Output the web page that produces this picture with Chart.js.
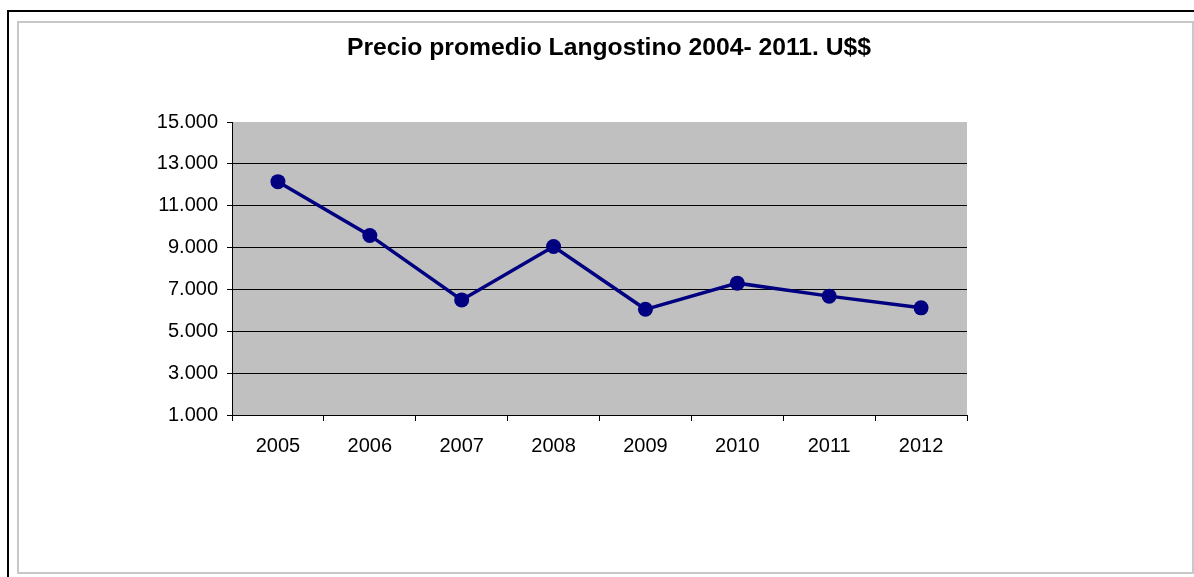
<!DOCTYPE html>
<html>
<head>
<meta charset="utf-8">
<script src="https://cdn.jsdelivr.net/npm/chart.js@4/dist/chart.umd.min.js"></script>
<style>
  html, body { margin: 0; padding: 0; background: #fff; overflow: hidden; }
  #outer { position: absolute; left: 7px; top: 10px; width: 1300px; height: 700px;
           border-left: 2px solid #000; border-top: 2px solid #000; }
  #inner { position: absolute; left: 17px; top: 21px; width: 1173px; height: 549px;
           border: 2px solid #c8c8c8; }
  #title { position: absolute; left: 109px; width: 1000px; top: 35px; text-align: center;
           font: bold 24.7px/24px "Liberation Sans", Arial, sans-serif; color: #000; white-space: nowrap; }
  #c { position: absolute; left: 0; top: 0; }
</style>
</head>
<body>
<div id="outer"></div>
<div id="inner"></div>
<canvas id="c" width="1194" height="577"></canvas>
<div id="title">Precio promedio Langostino 2004- 2011. U$$</div>
<script>
const titleText = 'Precio promedio Langostino 2004- 2011. U$$';
const years = ['2005', '2006', '2007', '2008', '2009', '2010', '2011', '2012'];
const prices = [12150, 9580, 6500, 9050, 6050, 7300, 6680, 6120];
const yMin = 1000;
const yMax = 15000;
const yStep = 2000;

function fmt(v) {
  return String(v).replace(/\B(?=(\d{3})+(?!\d))/g, '.');
}

const plotBg = {
  id: 'plotBg',
  beforeDraw(chart) {
    const a = chart.chartArea;
    const ctx = chart.ctx;
    ctx.save();
    ctx.fillStyle = '#c0c0c0';
    ctx.fillRect(a.left, a.top, a.right - a.left, a.bottom - a.top);
    ctx.restore();
  }
};

const font = { family: '"Liberation Sans", Arial, sans-serif', size: 20 };

new Chart(document.getElementById('c'), {
  type: 'line',
  data: {
    labels: years,
    datasets: [{
      label: titleText,
      data: prices,
      borderColor: '#000080',
      backgroundColor: '#000080',
      borderWidth: 3.5,
      pointRadius: 7.5,
      pointHoverRadius: 7.5,
      pointBorderWidth: 0,
      pointBackgroundColor: '#000080',
      tension: 0,
      fill: false
    }]
  },
  options: {
    responsive: false,
    animation: false,
    devicePixelRatio: 1,
    layout: { padding: { left: 0, top: 122, right: 227, bottom: 0 } },
    plugins: {
      legend: { display: false },
      title: { display: false },
      tooltip: { enabled: false }
    },
    scales: {
      x: {
        offset: true,
        grid: { offset: true, drawOnChartArea: false, color: '#000', tickLength: 6, lineWidth: 1 },
        border: { display: true, color: '#000', width: 1 },
        ticks: { color: '#000', font: font, padding: 13, maxRotation: 0 },
        afterFit(scale) { scale.height = 577 - 415; }
      },
      y: {
        min: yMin,
        max: yMax,
        grid: {
          color: (c) => (c.tick && c.tick.value === yMax) ? 'rgba(0,0,0,0)' : '#000',
          tickColor: '#000',
          tickLength: 5,
          lineWidth: 1
        },
        border: { display: true, color: '#000', width: 1 },
        ticks: { stepSize: yStep, color: '#000', font: font, padding: 9, callback: (v) => fmt(v) },
        afterFit(scale) { scale.width = 232; }
      }
    }
  },
  plugins: [plotBg]
});
</script>
</body>
</html>
